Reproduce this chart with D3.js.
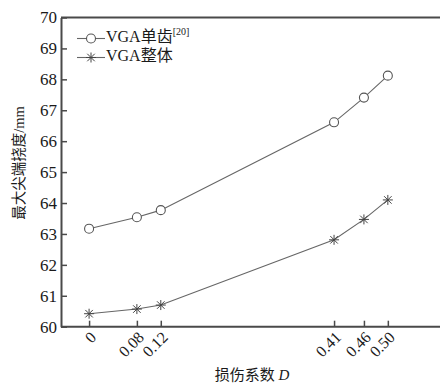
<!DOCTYPE html>
<html>
<head>
<meta charset="utf-8">
<script src="https://cdn.jsdelivr.net/npm/d3@7"></script>
<style>
  html, body { margin: 0; padding: 0; background: #fff; overflow: hidden; }
  svg { display: block; }
  text { font-family: "Liberation Serif", "Times New Roman", "Noto Sans CJK SC", serif; fill: #1a1a1a; }
</style>
</head>
<body>
<script>
// Damage coefficient D and maximum tip deflection (mm)
const damage = [0, 0.08, 0.12, 0.41, 0.46, 0.50];
const singleTooth = [63.17, 63.54, 63.77, 66.61, 67.41, 68.12];
const wholeGear = [60.42, 60.57, 60.70, 62.81, 63.47, 64.10];
const xTickLabels = ["0", "0.08", "0.12", "0.41", "0.46", "0.50"];
const yTicks = [60, 61, 62, 63, 64, 65, 66, 67, 68, 69, 70];
const seriesNames = ["VGA单齿", "VGA整体"];

const W = 440, H = 386;
const plotLeft = 61, plotTop = 17.5, plotBottom = 326.7;

const svg = d3.select("body").append("svg").attr("width", W).attr("height", H);

const x = d3.scaleLinear().domain([-0.047, 0.6]).range([plotLeft, plotLeft + 0.647 * 597.5]);
const y = d3.scaleLinear().domain([60, 70]).range([plotBottom, plotTop]);

const axisColor = "#4a4a4a";
const lineColor = "#666";

// frame: top line and axes
svg.append("line").attr("x1", plotLeft).attr("x2", W + 10).attr("y1", plotTop).attr("y2", plotTop)
  .attr("stroke", axisColor).attr("stroke-width", 2);

const gx = svg.append("g").attr("transform", `translate(0,${plotBottom})`)
  .call(d3.axisBottom(x).tickValues(damage).tickSizeInner(-6).tickSizeOuter(0).tickFormat((d, i) => xTickLabels[i]));
gx.select(".domain").attr("stroke", axisColor).attr("stroke-width", 2)
  .attr("d", `M${plotLeft},0H${W + 10}`);
gx.selectAll(".tick line").attr("stroke", axisColor).attr("stroke-width", 1.5);
gx.selectAll(".tick text")
  .attr("font-size", 16).attr("fill", "#1a1a1a")
  .attr("text-anchor", "end").attr("dy", null).attr("y", null)
  .attr("transform", "translate(5,9) rotate(-45)")
  .attr("dominant-baseline", "middle");

const gy = svg.append("g").attr("transform", `translate(${plotLeft},0)`)
  .call(d3.axisLeft(y).tickValues(yTicks).tickSizeInner(-6).tickSizeOuter(0).tickPadding(5));
gy.select(".domain").attr("stroke", axisColor).attr("stroke-width", 2);
gy.selectAll(".tick line").attr("stroke", axisColor).attr("stroke-width", 1.5);
gy.selectAll(".tick text").attr("font-size", 17).attr("fill", "#1a1a1a").attr("x", -4);

// axis titles
svg.append("text").attr("x", 252).attr("y", 380).attr("text-anchor", "middle").attr("font-size", 15)
  .call(t => { t.append("tspan").text("损伤系数 "); t.append("tspan").attr("font-style", "italic").text("D"); });
svg.append("text").attr("transform", "translate(21,163) rotate(-90)").attr("text-anchor", "middle")
  .attr("dominant-baseline", "middle").attr("font-size", 14.5).text("最大尖端挠度/mm");

const line = d3.line().x((d, i) => x(damage[i])).y(d => y(d));

function asterisk(g, cx, cy, r) {
  const p = g.append("g").attr("transform", `translate(${cx},${cy})`)
    .attr("stroke", "#444").attr("stroke-width", 1);
  p.append("line").attr("x1", -r).attr("x2", r).attr("y1", 0).attr("y2", 0);
  p.append("line").attr("x1", 0).attr("x2", 0).attr("y1", -r).attr("y2", r);
  const k = r * 0.75;
  p.append("line").attr("x1", -k).attr("x2", k).attr("y1", -k).attr("y2", k);
  p.append("line").attr("x1", -k).attr("x2", k).attr("y1", k).attr("y2", -k);
}

// series 1: circles
svg.append("path").datum(singleTooth).attr("d", line).attr("fill", "none")
  .attr("stroke", lineColor).attr("stroke-width", 1.1);
svg.selectAll(".c").data(singleTooth).enter().append("circle")
  .attr("cx", (d, i) => x(damage[i])).attr("cy", d => y(d)).attr("r", 4.5)
  .attr("fill", "#fff").attr("stroke", "#555").attr("stroke-width", 1.1);

// series 2: asterisks
svg.append("path").datum(wholeGear).attr("d", line).attr("fill", "none")
  .attr("stroke", lineColor).attr("stroke-width", 1.1);
wholeGear.forEach((d, i) => asterisk(svg, x(damage[i]), y(d), 5));

// legend
const lg = svg.append("g");
const rows = [38.5, 57.5];
rows.forEach((ry, i) => {
  lg.append("line").attr("x1", 77).attr("x2", 105).attr("y1", ry).attr("y2", ry)
    .attr("stroke", lineColor).attr("stroke-width", 1.1);
  if (i === 0) {
    lg.append("circle").attr("cx", 91).attr("cy", ry).attr("r", 4.5)
      .attr("fill", "#fff").attr("stroke", "#555").attr("stroke-width", 1.1);
  } else {
    asterisk(lg, 91, ry, 5);
  }
  const t = lg.append("text").attr("x", 106).attr("y", ry).attr("dominant-baseline", "middle")
    .attr("font-size", 16).text(seriesNames[i]);
  if (i === 0) t.append("tspan").attr("font-size", 10).attr("dy", -6).text("[20]");
});
</script>
</body>
</html>
